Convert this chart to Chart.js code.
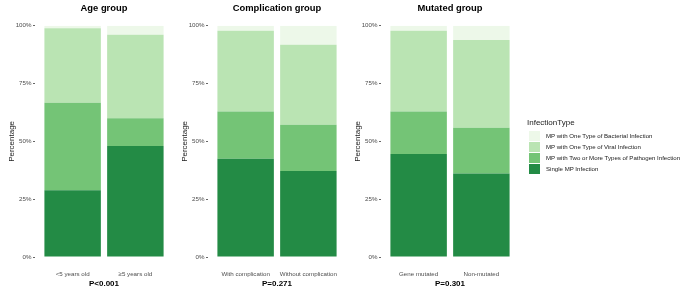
<!DOCTYPE html>
<html>
<head>
<meta charset="utf-8">
<script src="https://cdn.jsdelivr.net/npm/chart.js@4"></script>
<style>
  body { margin: 0; background: #fff; font-family: "Liberation Sans", Arial, sans-serif; }
  #wrap { position: relative; width: 685px; height: 291px; }
  /* canvas is wider than the panel so the title centres on the plot area */
  .panel { position: absolute; top: 0; width: 208px; height: 291px; }
  #legend { position: absolute; left: 527px; top: 117px; font-size: 6.1px; color: #1a1a1a; white-space: nowrap; }
  #legend .ttl { font-size: 8px; height: 12px; line-height: 12px; margin-bottom: 1px; }
  #legend .row { display: flex; align-items: center; height: 11px; }
  #legend .box { width: 11px; height: 10px; margin: 0 6px 0 2px; }
</style>
</head>
<body>
<div id="wrap">
  <div class="panel" style="left:0"><canvas id="c1"></canvas></div>
  <div class="panel" style="left:173px"><canvas id="c2"></canvas></div>
  <div class="panel" style="left:346px"><canvas id="c3"></canvas></div>
  <div id="legend"></div>
</div>
<script>
// series, bottom to top of each stack
const seriesNames = [
  'Single MP Infection',
  'MP with Two or More Types of Pathogen Infection',
  'MP with One Type of Viral Infection',
  'MP with One Type of Bacterial Infection'
];
const seriesColors = ['#238b45', '#74c476', '#bae4b3', '#edf8e9'];

const yTicks = [0, 25, 50, 75, 100];

// Age group
const ageLabels = ['<5 years old', '\u22655 years old'];
const ageSingle = [28.9, 48.0];
const ageMulti = [37.8, 12.0];
const ageViral = [32.2, 36.1];
const ageBacterial = [1.1, 3.9];

// Complication group
const compLabels = ['With complication', 'Without complication'];
const compSingle = [42.5, 37.2];
const compMulti = [20.4, 20.0];
const compViral = [34.9, 34.6];
const compBacterial = [2.2, 8.2];

// Mutated group
const mutLabels = ['Gene mutated', 'Non-mutated'];
const mutSingle = [44.5, 36.1];
const mutMulti = [18.4, 19.8];
const mutViral = [34.9, 37.9];
const mutBacterial = [2.2, 6.2];

const FONT = '"Liberation Sans", Arial, sans-serif';

function makePanel(id, title, pval, labels, series) {
  new Chart(document.getElementById(id), {
    type: 'bar',
    data: {
      labels: labels,
      datasets: series.map((vals, i) => ({
        label: seriesNames[i],
        data: vals,
        backgroundColor: seriesColors[i],
        borderWidth: 0,
        barPercentage: 0.9,
        categoryPercentage: 1.0
      }))
    },
    options: {
      responsive: true,
      maintainAspectRatio: false,
      animation: false,
      layout: { padding: { left: 0, right: 0, top: 0, bottom: 2 } },
      plugins: {
        legend: { display: false },
        tooltip: { enabled: false },
        title: {
          display: true,
          text: title,
          color: '#000',
          font: { family: FONT, size: 9.4, weight: 'bold' },
          padding: { top: 2.5, bottom: 12 }
        }
      },
      scales: {
        x: {
          stacked: true,
          offset: false,
          // ggplot-like discrete expansion: 0.6 units either side
          afterBuildTicks: (axis) => { axis._startValue = -0.6; axis._valueRange = 2.2; },
          afterFit: (axis) => { axis.height = 32; },
          grid: { display: false, drawTicks: false },
          border: { display: false },
          ticks: { color: '#4d4d4d', font: { family: FONT, size: 6.2 }, padding: 14, maxRotation: 0, autoSkip: false },
          title: { display: true, text: pval, color: '#000', font: { family: FONT, size: 8, weight: 'bold' }, padding: 0 }
        },
        y: {
          stacked: true,
          min: 0,
          max: 100,
          afterBuildTicks: (axis) => { axis.ticks = yTicks.map(v => ({ value: v })); },
          afterFit: (axis) => { axis.width = 35; },
          grid: { drawOnChartArea: false, drawTicks: true, tickLength: 2, color: '#666' },
          border: { display: false },
          ticks: { color: '#4d4d4d', font: { family: FONT, size: 6.2 }, padding: 1.5, callback: v => v + '%' },
          title: { display: true, text: 'Percentage', color: '#1a1a1a', font: { family: FONT, size: 8 }, padding: { top: 7, bottom: 0 } }
        },
        // empty spacer on the right, same width as the y axis, so the title sits over the panel centre
        spacer: {
          position: 'right',
          afterFit: (axis) => { axis.width = 35; },
          grid: { display: false, drawTicks: false },
          border: { display: false },
          ticks: { display: false }
        }
      }
    }
  });
}

makePanel('c1', 'Age group', 'P<0.001', ageLabels, [ageSingle, ageMulti, ageViral, ageBacterial]);
makePanel('c2', 'Complication group', 'P=0.271', compLabels, [compSingle, compMulti, compViral, compBacterial]);
makePanel('c3', 'Mutated group', 'P=0.301', mutLabels, [mutSingle, mutMulti, mutViral, mutBacterial]);

// legend (top to bottom = reverse stacking order)
const legend = document.getElementById('legend');
legend.innerHTML = '<div class="ttl">InfectionType</div>' +
  seriesNames.map((n, i) => ({ n, c: seriesColors[i] })).reverse()
    .map(s => `<div class="row"><div class="box" style="background:${s.c}"></div>${s.n}</div>`).join('');
</script>
</body>
</html>
